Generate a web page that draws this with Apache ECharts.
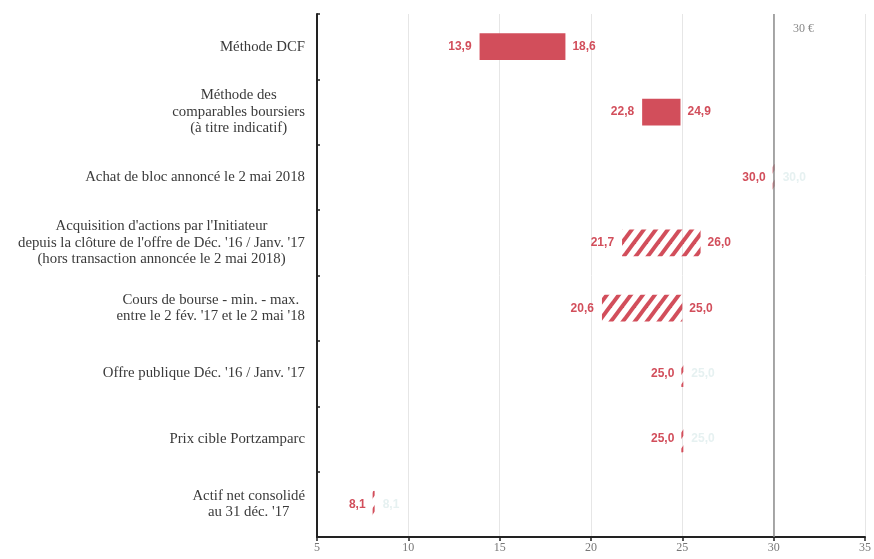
<!DOCTYPE html>
<html>
<head>
<meta charset="utf-8">
<script src="https://cdn.jsdelivr.net/npm/echarts@6/dist/echarts.min.js"></script>
<style>
  html, body { margin: 0; padding: 0; background: #fff; }
  #chart { width: 874px; height: 559px; }
</style>
</head>
<body>
<div id="chart"></div>
<script>
// catégories (de haut en bas)
var categories = [
  'Méthode DCF',
  'Méthode des\ncomparables boursiers\n(à titre indicatif)',
  'Achat de bloc annoncé le 2 mai 2018',
  'Acquisition d\'actions par l\'Initiateur\ndepuis la clôture de l\'offre de Déc. \'16 / Janv. \'17\n(hors transaction annoncée le 2 mai 2018)',
  'Cours de bourse - min. - max.\nentre le 2 fév. \'17 et le 2 mai \'18',
  'Offre publique Déc. \'16 / Janv. \'17',
  'Prix cible Portzamparc',
  'Actif net consolidé\nau 31 déc. \'17'
];
var lowValues  = [13.9, 22.8, 30.0, 21.7, 20.6, 25.0, 25.0, 8.1];
var highValues = [18.6, 24.9, 30.0, 26.0, 25.0, 25.0, 25.0, 8.1];
var barStyles  = ['solid', 'solid', 'hatch', 'hatch', 'hatch', 'hatch', 'hatch', 'hatch'];
var xTicks = [5, 10, 15, 20, 25, 30, 35];
var refPrice = 30;

var red = '#d24e5b';
var catFont = '14.8px "Liberation Serif"';

// motif hachuré
var tile = document.createElement('canvas');
tile.width = 12; tile.height = 16;
var ctx = tile.getContext('2d');
ctx.strokeStyle = red;
ctx.lineWidth = 4;
[-12, 0, 12].forEach(function (k) {
  ctx.beginPath();
  ctx.moveTo(k - 6, 24);
  ctx.lineTo(k + 18, -8);
  ctx.stroke();
});
var hatch = { image: tile, repeat: 'repeat' };

// largeur du libellé le plus long de chaque catégorie
var mctx = document.createElement('canvas').getContext('2d');
mctx.font = catFont;
function blockWidth(txt) {
  return Math.max.apply(null, txt.split('\n').map(function (l) { return mctx.measureText(l).width; }));
}

function fmt(v) {
  return v.toFixed(1).replace('.', ',');
}

var data = [];
for (var i = 0; i < categories.length; i++) {
  data.push([i, lowValues[i], highValues[i]]);
}

function renderItem(params, api) {
  var idx = api.value(0);
  var lo = api.coord([api.value(1), idx]);
  var hi = api.coord([api.value(2), idx]);
  var bandH = api.size([0, 1])[1];
  var h = bandH * 0.41;
  var w = Math.max(hi[0] - lo[0], 2);
  var point = api.value(1) === api.value(2);
  var labelFont = 'bold 12px "Liberation Sans Narrow", "Liberation Sans", Arial';
  return {
    type: 'group',
    children: [
      {
        type: 'rect',
        shape: { x: lo[0] - (point ? 1 : 0), y: lo[1] - h / 2, width: w, height: h },
        style: { fill: barStyles[idx] === 'solid' ? red : hatch }
      },
      {
        type: 'text',
        x: lo[0] - 8, y: lo[1],
        style: {
          text: fmt(api.value(1)), fill: red, font: labelFont,
          align: 'right', verticalAlign: 'middle'
        }
      },
      {
        type: 'text',
        x: lo[0] + w + 7, y: lo[1],
        style: {
          text: fmt(api.value(2)), fill: point ? '#e6f1f1' : red, font: labelFont,
          align: 'left', verticalAlign: 'middle'
        }
      }
    ]
  };
}

// libellés de catégorie : bloc aligné à droite, lignes centrées
function renderLabel(params, api) {
  var idx = api.value(0);
  var p = api.coord([xTicks[0], idx]);
  var txt = categories[idx];
  var bw = blockWidth(txt);
  return {
    type: 'text',
    x: p[0] - 12 - bw / 2, y: p[1],
    style: {
      text: txt, fill: '#3a3a3a', font: catFont, lineHeight: 16.5,
      align: 'center', verticalAlign: 'middle'
    }
  };
}

var chart = echarts.init(document.getElementById('chart'));
var option = {
  animation: false,
  grid: { left: 317, right: 8, top: 14, bottom: 22 },
  xAxis: {
    type: 'value',
    min: 5, max: 35, interval: 5,
    axisLine: { show: true, lineStyle: { color: '#222', width: 2 } },
    axisTick: { show: true, length: 4, lineStyle: { color: '#222', width: 1.5 } },
    axisLabel: {
      color: '#777', fontFamily: 'Liberation Serif', fontSize: 12, margin: 5,
      formatter: function (v) { return xTicks.indexOf(v) >= 0 ? String(v) : ''; }
    },
    splitLine: { show: true, lineStyle: { color: '#e6e6e6', width: 1 } }
  },
  yAxis: {
    type: 'category',
    inverse: true,
    data: categories,
    axisLine: { show: true, lineStyle: { color: '#222', width: 2 } },
    axisTick: { show: true, inside: true, length: 3, lineStyle: { color: '#222', width: 1.5 } },
    axisLabel: { show: false }
  },
  series: [{
    type: 'custom',
    renderItem: renderItem,
    encode: { x: [1, 2], y: 0 },
    data: data,
    markLine: {
      silent: true,
      symbol: 'none',
      label: { show: false },
      lineStyle: { color: '#8c8c8c', width: 1.5, type: 'solid' },
      data: [{ xAxis: refPrice }]
    }
  }, {
    type: 'custom',
    renderItem: renderLabel,
    encode: { x: 1, y: 0 },
    clip: false,
    data: data
  }],
  graphic: [{
    type: 'text',
    left: 793, top: 23,
    style: { text: refPrice + ' €', fill: '#888', font: '12px "Liberation Serif"' }
  }]
};
chart.setOption(option);
</script>
</body>
</html>
